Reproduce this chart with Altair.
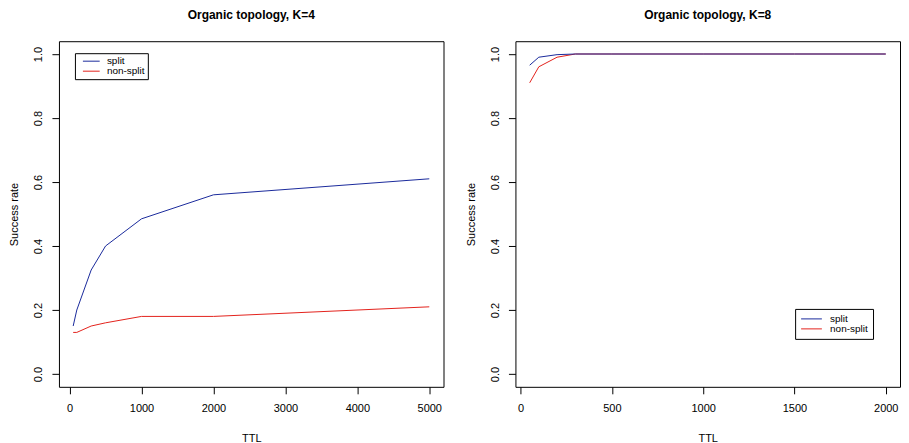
import altair as alt
import pandas as pd

# ---- data ----
ttl_k4 = [50, 100, 300, 500, 1000, 2000, 5000]
split_k4 = [0.15, 0.20, 0.325, 0.40, 0.485, 0.56, 0.61]
nonsplit_k4 = [0.13, 0.13, 0.15, 0.16, 0.18, 0.18, 0.21]

ttl_k8 = [50, 100, 200, 300, 500, 1000, 1500, 2000]
split_k8 = [0.965, 0.99, 0.998, 1.0, 1.0, 1.0, 1.0, 1.0]
nonsplit_k8 = [0.91, 0.96, 0.99, 1.0, 1.0, 1.0, 1.0, 1.0]

series_names = ["split", "non-split"]
series_colors = ["#1a2a9c", "#e3221c"]
panel_titles = ["Organic topology, K=4", "Organic topology, K=8"]
y_ticks = [0.0, 0.2, 0.4, 0.6, 0.8, 1.0]
x_ticks_k4 = [0, 1000, 2000, 3000, 4000, 5000]
x_ticks_k8 = [0, 500, 1000, 1500, 2000]

FONT = "Liberation Sans"
PANEL_W = 385
PANEL_H = 346


def make_df(ttl, s, ns):
    rows = []
    for t, v in zip(ttl, ns):
        rows.append({"TTL": t, "rate": v, "series": "non-split"})
    for t, v in zip(ttl, s):
        rows.append({"TTL": t, "rate": v, "series": "split"})
    return pd.DataFrame(rows)


def padded(vals, frac=0.04):
    lo, hi = min(vals), max(vals)
    d = (hi - lo) * frac
    return [lo - d, hi + d]


def panel(df, ttl, xticks, title, lx, ly, sym_path, lab_off, lpad):
    x = alt.X(
        "TTL:Q",
        scale=alt.Scale(domain=padded(ttl), nice=False, zero=False),
        axis=alt.Axis(values=xticks, format="d", title="TTL",
                      labelPadding=9, titlePadding=19),
    )
    y = alt.Y(
        "rate:Q",
        scale=alt.Scale(domain=padded([0.0, 1.0]), nice=False, zero=False),
        axis=alt.Axis(values=y_ticks, format=".1f", title="Success rate",
                      labelAngle=-90, labelAlign="center", labelBaseline="bottom",
                      labelPadding=8, titlePadding=13),
    )
    color = alt.Color(
        "series:N",
        scale=alt.Scale(domain=series_names, range=series_colors),
        legend=alt.Legend(title=None, orient="none", legendX=lx, legendY=ly,
                          symbolType=sym_path, symbolStrokeWidth=1, symbolSize=64,
                          symbolFillColor="transparent",
                          labelFontSize=10, labelFont=FONT, labelColor="black",
                          strokeColor="black", fillColor="white", padding=lpad,
                          rowPadding=0, labelOffset=lab_off),
    )
    return (
        alt.Chart(df)
        .mark_line(strokeWidth=1)
        .encode(x=x, y=y, color=color)
        .properties(width=PANEL_W, height=PANEL_H,
                    title=alt.TitleParams(title, fontSize=12, fontWeight="bold",
                                          font=FONT, color="black", offset=19,
                                          anchor="middle"))
    )


left = panel(make_df(ttl_k4, split_k4, nonsplit_k4), ttl_k4, x_ticks_k4,
             panel_titles[0], 16, 12, "M0,0H4.2", 19, 3)
right = panel(make_df(ttl_k8, split_k8, nonsplit_k8), ttl_k8, x_ticks_k8,
              panel_titles[1], 280, 268, "M-1,0H4.2", 20, 5)

chart = (
    alt.hconcat(left, right, spacing=72, bounds="flush")
    .resolve_scale(color="independent", x="independent", y="independent")
    .resolve_legend(color="independent")
    .properties(padding=0)
    .configure_view(stroke="black", strokeWidth=1)
    .configure_axis(domain=False, grid=False, tickColor="black", tickSize=7,
                    labelFont=FONT, labelFontSize=11, labelColor="black",
                    titleFont=FONT, titleFontSize=11, titleFontWeight="normal",
                    titleColor="black")
)

chart.save("out.html", embed_options={"renderer": "svg", "actions": False})
